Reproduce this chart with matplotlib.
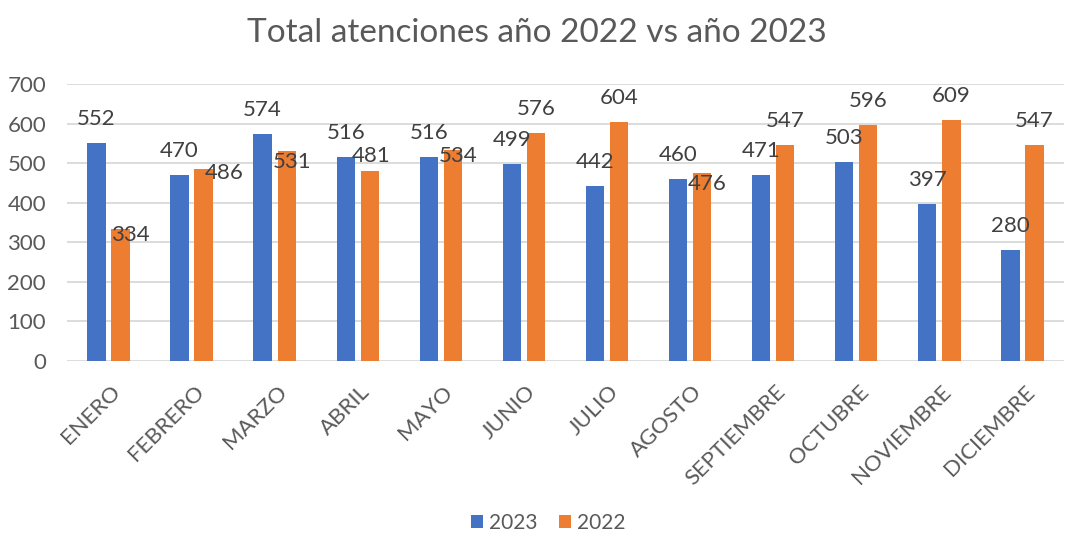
import matplotlib.pyplot as plt
import matplotlib.transforms as mtransforms
import numpy as np

months = ["ENERO", "FEBRERO", "MARZO", "ABRIL", "MAYO", "JUNIO", "JULIO",
          "AGOSTO", "SEPTIEMBRE", "OCTUBRE", "NOVIEMBRE", "DICIEMBRE"]
vals_2023 = [552, 470, 574, 516, 516, 499, 442, 460, 471, 503, 397, 280]
vals_2022 = [334, 486, 531, 481, 534, 576, 604, 476, 547, 596, 609, 547]

# label offsets (pixels) from the top of each bar, as placed in the original
dy_2023 = [24] * 12
dx_2023 = [0] * 12
dy_2022 = [-6, -4, -11, 15, -6, 24, 24, -11, 24, 24, 24, 24]
dx_2022 = [10, 21, 5, 1, 5, 0, 0, 5, 0, 0, 0, 0]

BLUE = "#4472C4"
ORANGE = "#ED7D31"
FONT = "Lato"

plt.rcParams['font.family'] = [FONT, 'DejaVu Sans']

fig = plt.figure(figsize=(10.73, 5.54), dpi=100)
ax = fig.add_axes([0.0624, 0.3484, 0.9292, 0.5])

x = np.arange(len(months))
w = 0.22
off = 0.145
b1 = ax.bar(x - off, vals_2023, w, color=BLUE, label="2023", zorder=3)
b2 = ax.bar(x + off, vals_2022, w, color=ORANGE, label="2022", zorder=3)

for bars, vals, dxs, dys in ((b1, vals_2023, dx_2023, dy_2023),
                             (b2, vals_2022, dx_2022, dy_2022)):
    for rect, v, ddx, ddy in zip(bars, vals, dxs, dys):
        ax.annotate(str(v), (rect.get_x() + rect.get_width() / 2, v),
                    xytext=(ddx, ddy), textcoords='offset pixels',
                    ha='center', va='center', fontsize=16, color='#404040',
                    zorder=4)

ax.set_xlim(-0.5, len(months) - 0.5)
ax.set_ylim(0, 700)
ax.set_yticks(range(0, 701, 100))
ax.yaxis.grid(True, color='#D9D9D9', linewidth=1.3, zorder=0)
for s in ax.spines.values():
    s.set_visible(False)
ax.tick_params(axis='both', length=0, labelsize=16, labelcolor='#595959')
ax.tick_params(axis='y', pad=15)

ax.set_xticks(x)
ax.set_xticklabels(months, rotation=45, ha='right', va='center',
                   rotation_mode='anchor')
ax.tick_params(axis='x', pad=20)
shift = mtransforms.ScaledTranslation(9 / 100, 0, fig.dpi_scale_trans)
for lab in ax.get_xticklabels():
    lab.set_transform(lab.get_transform() + shift)

fig.text(0.5, 0.94, "Total atenciones año 2022 vs año 2023", ha='center',
         va='center', fontsize=24, color='#595959')

fig.legend(handles=[b1, b2], labels=["2023", "2022"], loc='center',
           bbox_to_anchor=(0.511, 0.056), ncol=2, frameon=False, fontsize=15,
           labelcolor='#595959', handlelength=0.6, handleheight=0.6,
           handletextpad=0.3, columnspacing=1.0)

fig.savefig("out.png", dpi=100)
